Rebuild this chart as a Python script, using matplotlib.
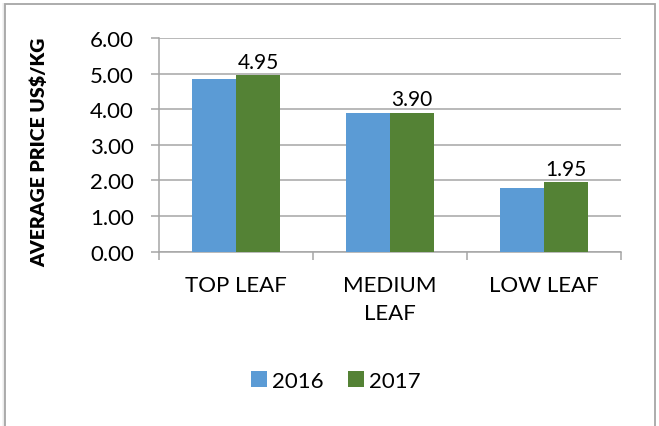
import matplotlib
matplotlib.use("Agg")
import matplotlib.pyplot as plt
import numpy as np
from matplotlib.patches import Rectangle

categories = ["TOP LEAF", "MEDIUM\nLEAF", "LOW LEAF"]
series_names = ["2016", "2017"]
values_2016 = [4.85, 3.90, 1.80]
values_2017 = [4.95, 3.90, 1.95]
labels_2017 = ["4.95", "3.90", "1.95"]
yticks = [0, 1, 2, 3, 4, 5, 6]
ytick_labels = ["0.00", "1.00", "2.00", "3.00", "4.00", "5.00", "6.00"]

plt.rcParams['font.family'] = ['Lato', 'DejaVu Sans']

W, H = 659, 427
fig = plt.figure(figsize=(W/100, H/100), dpi=100)
fig.patch.set_facecolor("white")

# frame with soft shadow
for i, a in enumerate([0.25, 0.15, 0.08]):
    fig.add_artist(Rectangle(((5 - i - 1)/W, 0), 1/W, (H - 4)/H, transform=fig.transFigure,
                             facecolor="#808080", alpha=a, edgecolor="none"))
fig.add_artist(Rectangle((5/W, -0.01), (655-5)/W, (H - 4.5)/H + 0.01, transform=fig.transFigure,
                         facecolor="none", edgecolor="#A6A6A6", linewidth=1.3))

ax = fig.add_axes([159/W, 1 - 252.7/H, (621-159)/W, (252.7-39)/H])
x = np.arange(len(categories))
bw = 0.285
c16 = "#5B9BD5"
c17 = "#548235"
ax.bar(x - bw/2, values_2016, bw, color=c16, label=series_names[0], zorder=3)
b17 = ax.bar(x + bw/2, values_2017, bw, color=c17, label=series_names[1], zorder=3)
for rect, lab in zip(b17, labels_2017):
    ax.text(rect.get_x() + rect.get_width()/2, rect.get_height() + 0.1, lab,
            ha="center", va="bottom", fontsize=15, color="#000000")

ax.set_xlim(-0.5, len(categories) - 0.5)
ax.set_ylim(0, 6)
ax.set_yticks(yticks)
ax.set_yticklabels(ytick_labels, fontsize=16)
ax.yaxis.grid(True, color="#A6A6A6", linewidth=1.1, zorder=0)
ax.set_axisbelow(True)

ax.set_xticks(x)
ax.set_xticklabels(categories, fontsize=16, linespacing=1.5)
ax.set_xticks(np.arange(len(categories) + 1) - 0.5, minor=True)
ax.tick_params(axis="x", which="major", length=0, pad=17)
ax.tick_params(axis="x", which="minor", length=6, color="#A6A6A6", width=1.1)
ax.tick_params(axis="y", length=6, color="#A6A6A6", width=1.1, pad=12)

for s in ["top", "right"]:
    ax.spines[s].set_visible(False)
for s in ["left", "bottom"]:
    ax.spines[s].set_color("#A6A6A6")
    ax.spines[s].set_linewidth(1.1)

ax.set_ylabel("AVERAGE PRICE US$/KG", fontsize=14, fontweight="heavy")
ax.yaxis.set_label_coords((48 - 159)/(621-159), 0.47)

leg = fig.legend(loc="center", bbox_to_anchor=(336/W, 1 - 382/H), ncol=2, frameon=False,
                 fontsize=16, handlelength=0.7, handleheight=0.7, handletextpad=0.25,
                 columnspacing=1.1)

fig.savefig("out.png", dpi=100, facecolor="white")
